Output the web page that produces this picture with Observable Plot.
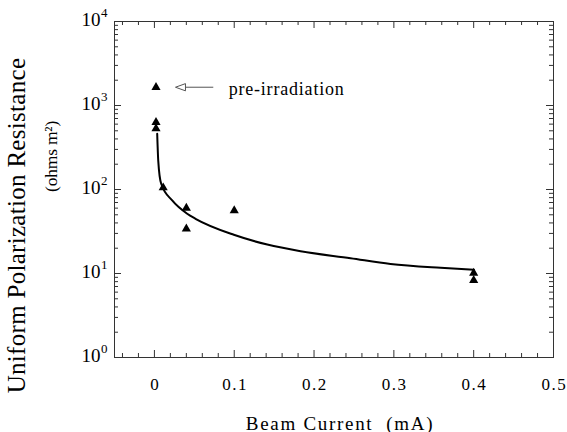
<!DOCTYPE html>
<html><head><meta charset="utf-8">
<script src="https://cdn.jsdelivr.net/npm/d3@7"></script>
<script src="https://cdn.jsdelivr.net/npm/@observablehq/plot@0.6"></script>
<style>
body{margin:0;background:#fff;}
</style></head><body><div id="chart"></div>
<script>
// measured points (beam current mA, resistance ohms m^2)
const pointX = [0.002, 0.002, 0.002, 0.011, 0.04, 0.04, 0.1, 0.4, 0.4];
const pointY = [1650, 630, 530, 105, 60, 34, 56, 10.1, 8.3];
// fitted curve
const curveX = [0.0035, 0.0048, 0.0085, 0.0223, 0.0411, 0.0515, 0.0995, 0.1414, 0.1831, 0.2457, 0.2958, 0.3585, 0.4003];
const curveY = [460, 221, 117, 74, 51.4, 44.8, 28.9, 22.1, 18.4, 15.2, 13.0, 11.7, 11.1];
// axes
const xMajor = [0, 0.1, 0.2, 0.3, 0.4, 0.5];
const xLabels = ["0", "0.1", "0.2", "0.3", "0.4", "0.5"];
const xMinor = [-0.04, -0.02, 0.02, 0.04, 0.06, 0.08, 0.12, 0.14, 0.16, 0.18, 0.22, 0.24, 0.26, 0.28, 0.32, 0.34, 0.36, 0.38, 0.42, 0.44, 0.46, 0.48];
const yMajor = [1, 10, 100, 1000, 10000];
const yExp = ["0", "1", "2", "3", "4"];
const yMinor = [1, 10, 100, 1000].flatMap(b => [2,3,4,5,6,7,8,9].map(m => m * b));
// annotation
const noteText = "pre-irradiation";
const noteY = 1650;
const arrowTipX = 0.0264, arrowTailX = 0.0744, noteX = 0.093;
const xTitle = "Beam Current\u00a0\u00a0(mA)";
const yTitle1 = "Uniform Polarization Resistance";
const yTitle2 = "(ohms m\u00b2)";

const W = 567, H = 432, mL = 114, mR = 14, mT = 21, mB = 75;
const iW = W - mL - mR, iH = H - mT - mB;
const majorLen = 7, minorLen = 4, tc = "#333";

const points = pointX.map((x, i) => ({x, y: pointY[i]}));
const curve = curveX.map((x, i) => ({x, y: curveY[i]}));
const headSymbol = {draw(ctx) { ctx.moveTo(0, 0); ctx.lineTo(10, -3.6); ctx.lineTo(10, 3.6); ctx.closePath(); }};

const chart = Plot.plot({
  width: W, height: H,
  marginLeft: mL, marginRight: mR, marginTop: mT, marginBottom: mB,
  style: {fontFamily: "Liberation Serif, Times New Roman, serif", background: "#fff", color: "#000"},
  x: {domain: [-0.05, 0.5], axis: null},
  y: {type: "log", domain: [1, 10000], axis: null},
  marks: [
    // ticks (inward)
    Plot.tickX(xMajor, {x: d => d, insetTop: iH - majorLen, stroke: tc}),
    Plot.tickX(xMinor, {x: d => d, insetTop: iH - minorLen, stroke: tc}),
    Plot.tickX(xMajor, {x: d => d, insetBottom: iH - majorLen, stroke: tc}),
    Plot.tickX(xMinor, {x: d => d, insetBottom: iH - minorLen, stroke: tc}),
    Plot.tickY(yMajor, {y: d => d, insetRight: iW - majorLen, stroke: tc}),
    Plot.tickY(yMinor, {y: d => d, insetRight: iW - minorLen, stroke: tc}),
    Plot.tickY(yMajor, {y: d => d, insetLeft: iW - majorLen, stroke: tc}),
    Plot.tickY(yMinor, {y: d => d, insetLeft: iW - minorLen, stroke: tc}),
    Plot.frame({stroke: tc, strokeWidth: 1}),
    // tick labels
    Plot.text(xMajor, {x: d => d, text: (d, i) => xLabels[i], frameAnchor: "bottom", textAnchor: "middle", lineAnchor: "middle", dy: 27, dx: 0.8, fontSize: 17, fill: "#000"}),
    Plot.text(yMajor, {y: d => d, text: () => "10", frameAnchor: "left", textAnchor: "end", lineAnchor: "middle", dx: -14, dy: -1.5, fontSize: 19, fill: "#000"}),
    Plot.text(yMajor, {y: d => d, text: (d, i) => yExp[i], frameAnchor: "left", textAnchor: "start", lineAnchor: "middle", dx: -13.5, dy: -9, fontSize: 13, fill: "#000"}),
    // axis titles
    Plot.text([xTitle], {text: d => d, frameAnchor: "bottom", textAnchor: "middle", lineAnchor: "bottom", dy: 72, dx: 6, fontSize: 19, fill: "#000"}),
    Plot.text([yTitle1], {text: d => d, frameAnchor: "left", textAnchor: "middle", rotate: -90, lineAnchor: "bottom", dx: -90, dy: 36, fontSize: 25, fill: "#000"}),
    Plot.text([yTitle2], {text: d => d, frameAnchor: "left", textAnchor: "middle", rotate: -90, lineAnchor: "bottom", dx: -58, dy: -33, fontSize: 17.5, fill: "#000"}),
    // fit curve
    Plot.line(curve, {x: "x", y: "y", curve: "monotone-x", stroke: "#000", strokeWidth: 2}),
    // data
    Plot.dot(points, {x: "x", y: "y", symbol: "triangle", r: 3.4, fill: "#000", stroke: "none"}),
    // annotation
    Plot.ruleY([noteY], {y: d => d, x1: arrowTipX + 0.0125, x2: arrowTailX, stroke: "#555", strokeWidth: 1}),
    Plot.dot([noteY], {x: arrowTipX, y: d => d, symbol: headSymbol, fill: "#fff", stroke: "#555", strokeWidth: 1}),
    Plot.text([noteText], {x: noteX, y: noteY, text: d => d, textAnchor: "start", lineAnchor: "bottom", dy: 7.5, fontSize: 18, fill: "#000"})
  ]
});
// letter spacing to match the wide lettering of the reference
const spacing = new Map([[xTitle, "1.7px"], [yTitle1, "0.3px"], [yTitle2, "-0.2px"], [noteText, "0.8px"]]);
xLabels.forEach(l => spacing.set(l, "1.5px"));
d3.select(chart).selectAll("text").each(function() {
  const s = spacing.get(this.textContent);
  if (s) this.style.letterSpacing = s;
});
document.getElementById("chart").appendChild(chart);
</script></body></html>
